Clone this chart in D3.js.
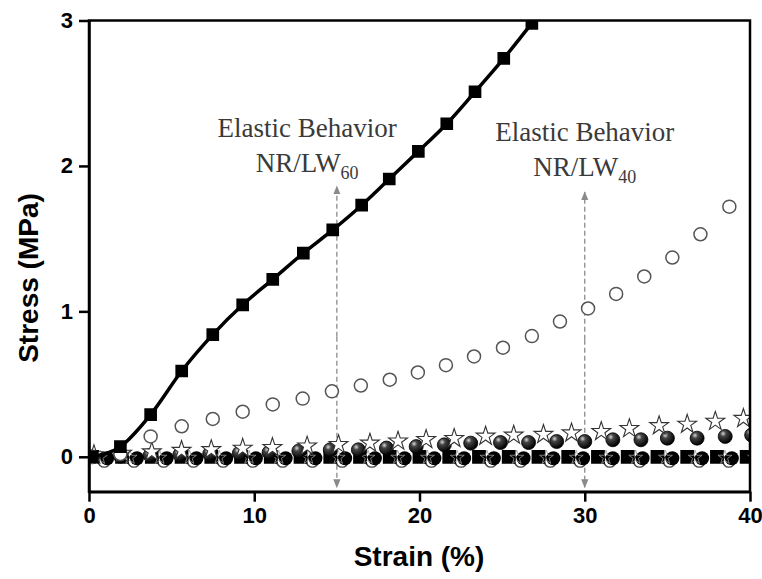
<!DOCTYPE html>
<html>
<head>
<meta charset="utf-8">
<script src="https://cdn.jsdelivr.net/npm/d3@7"></script>
<style>
body { margin: 0; background: #fff; }
</style>
</head>
<body>
<div id="chart"></div>
<script>
// NR/LW60 - filled squares with line
var sqX = [0.2, 1.9, 3.73, 5.61, 7.49, 9.30, 11.12, 12.97, 14.75, 16.5, 18.17, 19.93, 21.65, 23.36, 25.1, 26.8, 28.4];
var sqY = [0, 0.07, 0.29, 0.59, 0.84, 1.045, 1.22, 1.40, 1.56, 1.73, 1.91, 2.10, 2.29, 2.51, 2.74, 2.98, 3.2];

// NR/LW40 - open circles
var ocX = [0.2, 1.9, 3.73, 5.61, 7.49, 9.30, 11.12, 12.93, 14.7, 16.45, 18.2, 19.9, 21.6, 23.3, 25.05, 26.8, 28.5, 30.2, 31.9, 33.6, 35.3, 37.0, 38.75];
var ocY = [0, 0.02, 0.14, 0.21, 0.26, 0.31, 0.36, 0.40, 0.45, 0.49, 0.53, 0.58, 0.63, 0.69, 0.75, 0.83, 0.93, 1.02, 1.12, 1.24, 1.37, 1.53, 1.72];

// open stars
var stX = [0.3, 2.0, 3.8, 5.6, 7.4, 9.3, 11.1, 13.2, 15.1, 17.0, 18.7, 20.4, 22.1, 24.0, 25.7, 27.5, 29.2, 31.0, 32.7, 34.5, 36.2, 37.9, 39.6];
var stY = [0, 0.01, 0.02, 0.03, 0.035, 0.045, 0.05, 0.06, 0.07, 0.08, 0.094, 0.105, 0.112, 0.128, 0.135, 0.14, 0.15, 0.16, 0.18, 0.20, 0.21, 0.23, 0.25];

// shaded spheres
var spX = [0.2, 1.9, 3.7, 5.5, 7.3, 9.1, 10.9, 12.7, 14.6, 16.3, 18.0, 19.8, 21.5, 23.1, 24.9, 26.6, 28.3, 30.0, 31.7, 33.4, 35.0, 36.8, 38.5, 40.1];
var spY = [0, 0.005, 0.01, 0.015, 0.02, 0.025, 0.03, 0.04, 0.048, 0.048, 0.06, 0.07, 0.082, 0.094, 0.098, 0.098, 0.105, 0.105, 0.117, 0.117, 0.128, 0.128, 0.14, 0.15];

// series lying on zero
var zX = [0.2, 2.0, 3.8, 5.6, 7.4, 9.2, 11.0, 12.8, 14.6, 16.4, 18.2, 20.0, 21.8, 23.6, 25.4, 27.2, 29.0, 30.8, 32.6, 34.4, 36.2, 38.0, 39.8];
var zSqY = [0, 0, 0, 0, 0, 0, 0, 0, 0, 0, 0, 0, 0, 0, 0, 0, 0, 0, 0, 0, 0, 0, 0];
var zCiX = [1.1, 2.9, 4.7, 6.5, 8.3, 10.1, 11.9, 13.7, 15.5, 17.3, 19.1, 20.9, 22.7, 24.5, 26.3, 28.1, 29.9, 31.7, 33.5, 35.3, 37.1, 38.9];
var zCiY = [-0.01, -0.01, -0.01, -0.01, -0.01, -0.01, -0.01, -0.01, -0.01, -0.01, -0.01, -0.01, -0.01, -0.01, -0.01, -0.01, -0.01, -0.01, -0.01, -0.01, -0.01, -0.01];
var zOcY = [-0.03, -0.03, -0.03, -0.03, -0.03, -0.03, -0.03, -0.03, -0.03, -0.03, -0.03, -0.03, -0.03, -0.03, -0.03, -0.03, -0.03, -0.03, -0.03, -0.03, -0.03, -0.03];
var zStY = [-0.005, -0.005, -0.005, -0.005, -0.005, -0.005, -0.005, -0.005, -0.005, -0.005, -0.005, -0.005, -0.005, -0.005, -0.005, -0.005, -0.005, -0.005, -0.005, -0.005, -0.005, -0.005, -0.005];

var xTicks = [0, 10, 20, 30, 40];
var yTicks = [0, 1, 2, 3];

// annotation arrows (strain, top stress, bottom stress)
var arrows = [{x: 15, top: 1.86, bottom: -0.21}, {x: 30, top: 1.82, bottom: -0.21}];
var notes = [{x: 13.2, y: 2.2, sub: "60"}, {x: 30.0, y: 2.17, sub: "40"}];

var width = 762, height = 579;

var svg = d3.select("#chart").append("svg")
	.attr("width", width)
	.attr("height", height)
	.style("font-family", "'Liberation Sans', Arial, sans-serif");

var x = d3.scaleLinear().domain([0, 40]).range([89, 750]);
var y = d3.scaleLinear().domain([-0.24, 3]).range([491.7, 20.5]);

var defs = svg.append("defs");
defs.append("clipPath").attr("id", "plotclip")
	.append("rect")
	.attr("x", 89).attr("y", 20.5)
	.attr("width", 661).attr("height", 471.2);

var grad = defs.append("radialGradient").attr("id", "ball")
	.attr("cx", "35%").attr("cy", "30%").attr("r", "70%");
grad.append("stop").attr("offset", "0%").attr("stop-color", "#d8d8d8");
grad.append("stop").attr("offset", "30%").attr("stop-color", "#444");
grad.append("stop").attr("offset", "100%").attr("stop-color", "#000");

defs.append("marker").attr("id", "ahead")
	.attr("viewBox", "0 0 10 10")
	.attr("refX", 9).attr("refY", 5)
	.attr("markerWidth", 7).attr("markerHeight", 9)
	.attr("orient", "auto-start-reverse")
	.append("path")
	.attr("d", "M0,1 L10,5 L0,9 Z")
	.attr("fill", "#8a8a8a");

function zip(xs, ys) {
	return xs.map(function(v, i){ return {x: v, y: ys[i]}; });
}

var plot = svg.append("g").attr("clip-path", "url(#plotclip)");

// arrows
plot.selectAll(".arrow")
	.data(arrows)
	.enter()
	.append("line")
	.attr("x1", function(d){ return x(d.x); })
	.attr("x2", function(d){ return x(d.x); })
	.attr("y1", function(d){ return y((d.top + d.bottom) / 2); })
	.attr("y2", function(d){ return y(d.top); })
	.attr("stroke", "#8a8a8a")
	.attr("stroke-width", 1.3)
	.attr("stroke-dasharray", "5,3")
	.attr("marker-end", "url(#ahead)");

plot.selectAll(".arrow2")
	.data(arrows)
	.enter()
	.append("line")
	.attr("x1", function(d){ return x(d.x); })
	.attr("x2", function(d){ return x(d.x); })
	.attr("y1", function(d){ return y((d.top + d.bottom) / 2); })
	.attr("y2", function(d){ return y(d.bottom); })
	.attr("stroke", "#8a8a8a")
	.attr("stroke-width", 1.3)
	.attr("stroke-dasharray", "5,3")
	.attr("marker-end", "url(#ahead)");

var star = d3.symbol().type(d3.symbolStar).size(110);
var starSmall = d3.symbol().type(d3.symbolStar).size(60);
var square = d3.symbol().type(d3.symbolSquare).size(160);
var zsquare = d3.symbol().type(d3.symbolSquare).size(190);

// zero-level open circles
plot.selectAll(".zoc")
	.data(zip(zCiX, zOcY))
	.enter()
	.append("circle")
	.attr("cx", function(d){ return x(d.x) - 3; })
	.attr("cy", function(d){ return y(d.y); })
	.attr("r", 6)
	.attr("fill", "#fff")
	.attr("stroke", "#444")
	.attr("stroke-width", 1.4);

// zero-level filled squares
plot.selectAll(".zsq")
	.data(zip(zX, zSqY))
	.enter()
	.append("path")
	.attr("transform", function(d){ return "translate(" + x(d.x) + "," + y(d.y) + ")"; })
	.attr("d", zsquare)
	.attr("fill", "#000");

// zero-level filled circles
plot.selectAll(".zci")
	.data(zip(zCiX, zCiY))
	.enter()
	.append("circle")
	.attr("cx", function(d){ return x(d.x); })
	.attr("cy", function(d){ return y(d.y); })
	.attr("r", 7)
	.attr("fill", "#000");

// zero-level stars
plot.selectAll(".zst")
	.data(zip(zX, zStY))
	.enter()
	.append("path")
	.attr("transform", function(d){ return "translate(" + (x(d.x) + 8) + "," + y(d.y) + ")"; })
	.attr("d", starSmall)
	.attr("fill", "none")
	.attr("stroke", "#999")
	.attr("stroke-width", 0.8);

// spheres
plot.selectAll(".sp")
	.data(zip(spX, spY))
	.enter()
	.append("circle")
	.attr("cx", function(d){ return x(d.x); })
	.attr("cy", function(d){ return y(d.y); })
	.attr("r", 7)
	.attr("fill", "url(#ball)")
	.attr("stroke", "#000")
	.attr("stroke-width", 0.8);

// stars
plot.selectAll(".st")
	.data(zip(stX, stY))
	.enter()
	.append("path")
	.attr("transform", function(d){ return "translate(" + x(d.x) + "," + (y(d.y) - 2) + ")"; })
	.attr("d", star)
	.attr("fill", "#fff")
	.attr("stroke", "#333")
	.attr("stroke-width", 1.1);

// open circles
plot.selectAll(".oc")
	.data(zip(ocX, ocY))
	.enter()
	.append("circle")
	.attr("cx", function(d){ return x(d.x); })
	.attr("cy", function(d){ return y(d.y); })
	.attr("r", 6.5)
	.attr("fill", "#fff")
	.attr("stroke", "#555")
	.attr("stroke-width", 1.5);

// squares line
var line = d3.line()
	.x(function(d){ return x(d.x); })
	.y(function(d){ return y(d.y); })
	.curve(d3.curveMonotoneX);

plot.append("path")
	.datum(zip(sqX, sqY))
	.attr("d", line)
	.attr("fill", "none")
	.attr("stroke", "#000")
	.attr("stroke-width", 3.5);

plot.selectAll(".sq")
	.data(zip(sqX, sqY))
	.enter()
	.append("path")
	.attr("transform", function(d){ return "translate(" + x(d.x) + "," + y(d.y) + ")"; })
	.attr("d", square)
	.attr("fill", "#000");

// annotations
var ann = svg.selectAll(".note")
	.data(notes)
	.enter()
	.append("g")
	.attr("transform", function(d){ return "translate(" + x(d.x) + "," + y(d.y) + ")"; })
	.style("font-family", "'Liberation Serif', 'Times New Roman', serif")
	.attr("fill", "#3a3a3a");

ann.append("text")
	.attr("text-anchor", "middle")
	.attr("font-size", "27px")
	.text("Elastic Behavior");

var t2 = ann.append("text")
	.attr("text-anchor", "middle")
	.attr("y", 35)
	.attr("font-size", "27px");
t2.append("tspan").text("NR/LW");
t2.append("tspan")
	.attr("font-size", "18px")
	.attr("dy", 7)
	.text(function(d){ return d.sub; });

// frame
svg.append("rect")
	.attr("x", 89).attr("y", 20.5)
	.attr("width", 661).attr("height", 471.2)
	.attr("fill", "none")
	.attr("stroke", "#000")
	.attr("stroke-width", 2.5);

var xAxis = svg.append("g")
	.attr("transform", "translate(0," + 491.7 + ")")
	.call(d3.axisBottom(x).tickValues(xTicks).tickSize(10).tickSizeOuter(0).tickPadding(6).tickFormat(d3.format("d")));

var yAxis = svg.append("g")
	.attr("transform", "translate(89,0)")
	.call(d3.axisLeft(y).tickValues(yTicks).tickSize(10).tickSizeOuter(0).tickPadding(6).tickFormat(d3.format("d")));

[xAxis, yAxis].forEach(function(a){
	a.select(".domain").attr("stroke-width", 2.5);
	a.selectAll(".tick line").attr("stroke-width", 2.5);
	a.selectAll(".tick text")
		.attr("font-size", "22px")
		.attr("font-weight", "bold")
		.attr("font-family", "'Liberation Sans', Arial, sans-serif")
		.attr("fill", "#000");
});

svg.append("text")
	.attr("x", 419)
	.attr("y", 566)
	.attr("text-anchor", "middle")
	.attr("font-size", "28px")
	.attr("font-weight", "bold")
	.text("Strain (%)");

svg.append("text")
	.attr("transform", "translate(38,278) rotate(-90)")
	.attr("text-anchor", "middle")
	.attr("font-size", "28px")
	.attr("font-weight", "bold")
	.text("Stress (MPa)");
</script>
</body>
</html>
